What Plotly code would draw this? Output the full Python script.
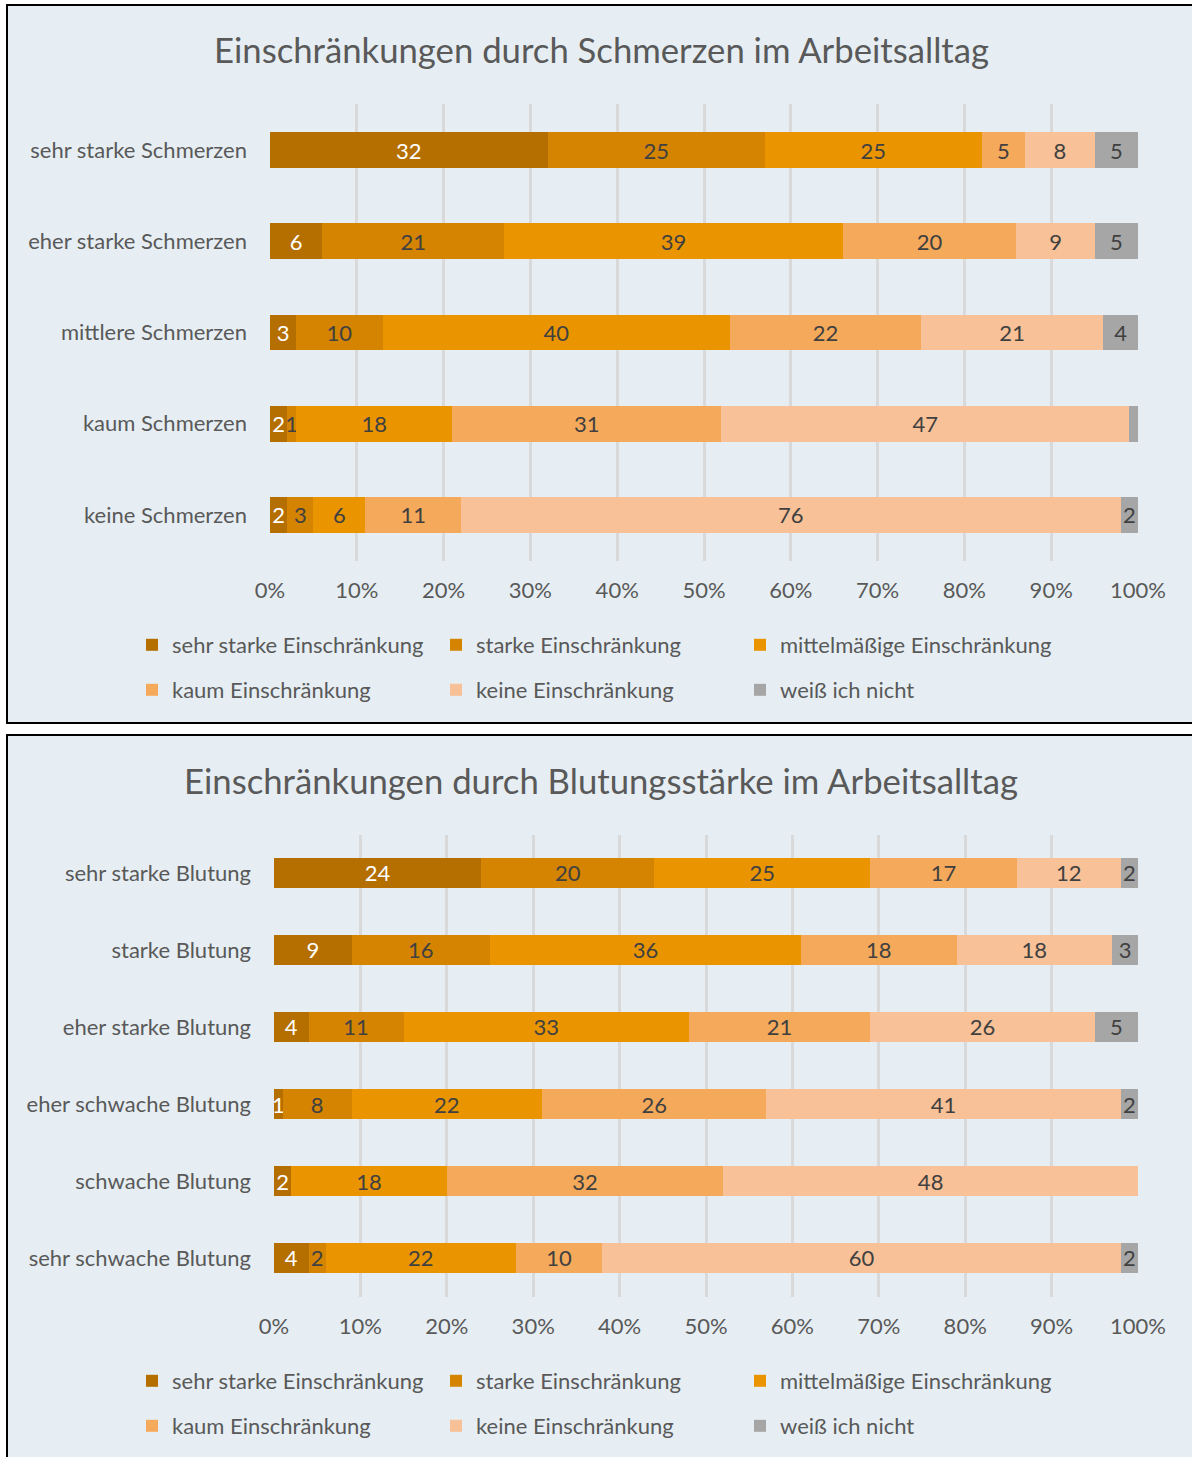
import plotly.graph_objects as go

series = ["sehr starke Einschränkung", "starke Einschränkung", "mittelmäßige Einschränkung",
          "kaum Einschränkung", "keine Einschränkung", "weiß ich nicht"]
colors = ["#B46F00", "#D48400", "#EA9500", "#F5A95A", "#F8C197", "#A6A6A6"]
text_colors = ["#FFFFFF", "#404040", "#404040", "#404040", "#404040", "#404040"]

pain_cats = ["sehr starke Schmerzen", "eher starke Schmerzen", "mittlere Schmerzen",
             "kaum Schmerzen", "keine Schmerzen"]
pain_vals = [
    [32, 6, 3, 2, 2],      # sehr starke
    [25, 21, 10, 1, 3],    # starke
    [25, 39, 40, 18, 6],   # mittelmäßige
    [5, 20, 22, 31, 11],   # kaum
    [8, 9, 21, 47, 76],    # keine
    [5, 5, 4, 1, 2],       # weiß ich nicht
]
pain_hidden = [(5, 3)]  # (series, category) labels not shown

bleed_cats = ["sehr starke Blutung", "starke Blutung", "eher starke Blutung",
              "eher schwache Blutung", "schwache Blutung", "sehr schwache Blutung"]
bleed_vals = [
    [24, 9, 4, 1, 2, 4],
    [20, 16, 11, 8, 0, 2],
    [25, 36, 33, 22, 18, 22],
    [17, 18, 21, 26, 32, 10],
    [12, 18, 26, 41, 48, 60],
    [2, 3, 5, 2, 0, 2],
]
bleed_hidden = []

xticks = list(range(0, 101, 10))
xticklabels = [f"{t}%" for t in xticks]

W, H = 1192, 1457
BG = "#E6EEF3"
FONT = "Lato, 'Open Sans', sans-serif"
GREY = "#595959"
FS = 22

def px_x(x):
    return x / W

def px_y(y):
    return 1 - y / H

fig = go.Figure()

# legend assignment per series: row 1 cols 1-2, row 1 col 3, row 2
legend_of_series = [0, 0, 1, 2, 2, 2]

panels = [
    dict(cats=pain_cats, vals=pain_vals, hidden=pain_hidden, xa="x", ya="y",
         legends=("legend", "legend2", "legend3")),
    dict(cats=bleed_cats, vals=bleed_vals, hidden=bleed_hidden, xa="x2", ya="y2",
         legends=("legend4", "legend5", "legend6")),
]

for p in panels:
    for si, name in enumerate(series):
        vals = p["vals"][si]
        txt = []
        for ci, v in enumerate(vals):
            if v == 0 or (si, ci) in p["hidden"]:
                txt.append("")
            else:
                txt.append(str(v))
        fig.add_trace(go.Bar(
            y=p["cats"], x=vals, name=name, orientation="h",
            marker=dict(color=colors[si], line=dict(width=0)),
            text=txt, textposition="inside", insidetextanchor="middle", textangle=0,
            textfont=dict(color=text_colors[si], size=FS, family=FONT),
            xaxis=p["xa"], yaxis=p["ya"],
            legend=p["legends"][legend_of_series[si]],
            hoverinfo="skip",
        ))

axis_common = dict(
    range=[0, 100], tickvals=xticks, ticktext=xticklabels,
    showgrid=True, gridcolor="#D9D9D9", gridwidth=2.5,
    zeroline=False, showline=False, ticks="", automargin=False,
    tickfont=dict(size=FS, color=GREY, family=FONT),
    ticklabelstandoff=14, fixedrange=True,
)
yaxis_common = dict(
    autorange="reversed", categoryorder="array",
    tickfont=dict(size=FS, color=GREY, family=FONT), ticks="", automargin=False,
    ticklabelstandoff=22, showgrid=False, zeroline=False, fixedrange=True,
)

fig.update_layout(
    width=W, height=H,
    margin=dict(l=0, r=0, t=0, b=0, pad=0, autoexpand=False),
    paper_bgcolor="white", plot_bgcolor="rgba(0,0,0,0)",
    barmode="stack", bargap=0.61,
    font=dict(family=FONT, color=GREY, size=FS),
    uniformtext=dict(minsize=FS, mode="show"),
    showlegend=True,
    xaxis=dict(domain=[px_x(270), px_x(1138)], anchor="y", **axis_common),
    yaxis=dict(domain=[px_y(560.6), px_y(104.4)], anchor="x",
               categoryarray=pain_cats, **yaxis_common),
    xaxis2=dict(domain=[px_x(274), px_x(1138)], anchor="y2", **axis_common),
    yaxis2=dict(domain=[px_y(1296.5), px_y(834.5)], anchor="x2",
                categoryarray=bleed_cats, **yaxis_common),
)

leg_common = dict(orientation="h", xanchor="left", yanchor="middle",
                  bgcolor="rgba(0,0,0,0)", font=dict(size=FS, color=GREY, family=FONT),
                  entrywidth=259, entrywidthmode="pixels", traceorder="normal",
                  itemclick=False, itemdoubleclick=False)
col1 = px_x(132)
col3 = px_x(132 + 608)
fig.update_layout(
    legend=dict(x=col1, y=px_y(645), **leg_common),
    legend2=dict(x=col3, y=px_y(645), **leg_common),
    legend3=dict(x=col1, y=px_y(690), **leg_common),
    legend4=dict(x=col1, y=px_y(1381), **leg_common),
    legend5=dict(x=col3, y=px_y(1381), **leg_common),
    legend6=dict(x=col1, y=px_y(1426), **leg_common),
)
fig.update_layout(legend2_entrywidth=320, legend5_entrywidth=320)

# panel backgrounds with borders
for (y0, y1) in [(5, 723), (735, 1470)]:
    fig.add_shape(type="rect", xref="paper", yref="paper",
                  x0=px_x(7), x1=px_x(1200), y0=px_y(y1), y1=px_y(y0),
                  fillcolor=BG, line=dict(color="black", width=2), layer="below")

titles = [("Einschränkungen durch Schmerzen im Arbeitsalltag", 50),
          ("Einschränkungen durch Blutungsstärke im Arbeitsalltag", 780)]
for t, y in titles:
    fig.add_annotation(text=t, x=px_x(601), y=px_y(y), xref="paper", yref="paper",
                       showarrow=False, xanchor="center", yanchor="middle",
                       font=dict(size=34.7, color=GREY, family=FONT))

fig.write_html("out.html", config={"displayModeBar": False},
               post_script="document.body.style.margin='0';")
